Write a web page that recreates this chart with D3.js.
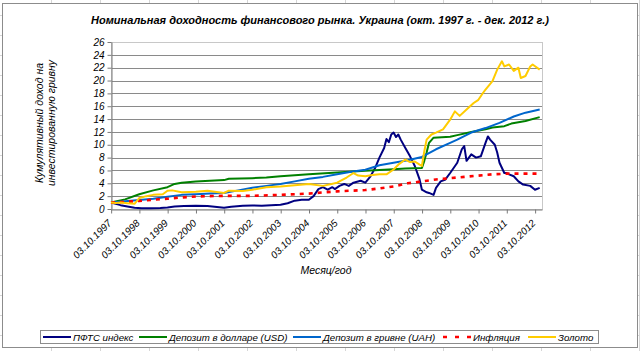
<!DOCTYPE html>
<html>
<head>
<meta charset="utf-8">
<script src="https://cdn.jsdelivr.net/npm/d3@7"></script>
<style>
  body { margin: 0; background: #fff; }
  svg { display: block; font-family: Arial, "Liberation Sans", sans-serif; }
</style>
</head>
<body>
<script>
// values, [month, cumulative value]
var pfts = [
  ["1997-10", 1.0], ["1997-12", 0.8], ["1998-02", 0.6], ["1998-05", 0.4], ["1998-08", 0.2],
  ["1998-11", 0.1], ["1999-03", 0.1], ["1999-07", 0.15], ["1999-10", 0.25], ["2000-01", 0.4],
  ["2000-05", 0.45], ["2000-10", 0.5], ["2001-03", 0.45], ["2001-07", 0.3], ["2001-10", 0.2],
  ["2002-01", 0.35], ["2002-06", 0.5], ["2002-10", 0.55], ["2003-02", 0.5], ["2003-06", 0.6],
  ["2003-10", 0.65], ["2004-01", 0.9], ["2004-04", 1.3], ["2004-07", 1.45], ["2004-10", 1.45],
  ["2004-12", 2.0], ["2005-02", 3.1], ["2005-04", 3.4], ["2005-06", 3.0], ["2005-08", 3.4],
  ["2005-09", 3.1], ["2005-11", 3.6], ["2006-01", 3.9], ["2006-03", 3.6], ["2006-05", 4.1],
  ["2006-08", 4.4], ["2006-10", 4.1], ["2006-12", 5.0], ["2007-02", 6.3], ["2007-04", 8.0],
  ["2007-06", 9.5], ["2007-07", 10.9], ["2007-08", 10.4], ["2007-09", 11.6], ["2007-10", 11.9],
  ["2007-11", 11.2], ["2007-12", 11.6], ["2008-01", 10.8], ["2008-03", 9.5], ["2008-05", 8.2],
  ["2008-07", 6.7], ["2008-09", 4.6], ["2008-10", 3.0], ["2008-12", 2.6], ["2009-01", 2.5],
  ["2009-03", 2.2], ["2009-04", 3.3], ["2009-06", 4.3], ["2009-08", 4.6], ["2009-10", 5.6],
  ["2010-01", 7.2], ["2010-03", 9.3], ["2010-04", 9.8], ["2010-05", 7.5], ["2010-07", 8.5],
  ["2010-09", 8.0], ["2010-11", 8.2], ["2011-01", 10.3], ["2011-02", 11.3], ["2011-03", 10.8],
  ["2011-05", 10.0], ["2011-06", 8.8], ["2011-07", 7.2], ["2011-09", 5.6], ["2011-10", 5.6],
  ["2011-11", 5.4], ["2012-01", 5.1], ["2012-03", 4.3], ["2012-05", 3.8], ["2012-08", 3.6],
  ["2012-10", 3.0], ["2012-12", 3.3]
];
var depUsd = [
  ["1997-10", 1.0], ["1998-04", 1.5], ["1998-10", 2.3], ["1999-04", 2.9], ["1999-10", 3.4],
  ["2000-01", 3.9], ["2000-04", 4.1], ["2000-10", 4.3], ["2001-04", 4.4], ["2001-10", 4.5],
  ["2001-12", 4.7], ["2002-10", 4.8], ["2003-04", 4.9], ["2003-10", 5.1], ["2004-10", 5.4],
  ["2005-10", 5.7], ["2006-10", 5.95], ["2007-10", 6.2], ["2008-03", 6.3], ["2008-10", 6.4],
  ["2008-11", 7.5], ["2008-12", 8.8], ["2009-01", 10.3], ["2009-03", 11.1], ["2009-10", 11.25],
  ["2010-01", 11.5], ["2010-07", 12.0], ["2011-01", 12.4], ["2011-04", 12.7], ["2011-09", 12.9],
  ["2011-12", 13.3], ["2012-06", 13.7], ["2012-12", 14.3]
];
var depUah = [
  ["1997-10", 1.0], ["1998-04", 1.2], ["1998-10", 1.4], ["1999-04", 1.6], ["1999-10", 1.9],
  ["2000-04", 2.2], ["2000-10", 2.3], ["2001-04", 2.4], ["2001-10", 2.5], ["2002-04", 2.9],
  ["2002-10", 3.3], ["2003-04", 3.6], ["2003-10", 3.9], ["2004-04", 4.3], ["2004-10", 4.7],
  ["2005-04", 5.0], ["2005-10", 5.4], ["2006-04", 5.8], ["2006-10", 6.1], ["2007-04", 6.8],
  ["2007-10", 7.2], ["2008-04", 7.6], ["2008-10", 8.1], ["2009-04", 9.3], ["2009-10", 10.3],
  ["2010-01", 10.8], ["2010-07", 11.9], ["2011-01", 12.6], ["2011-07", 13.4], ["2012-01", 14.4],
  ["2012-06", 15.0], ["2012-12", 15.5]
];
var inflation = [
  ["1997-10", 1.0], ["1998-04", 1.1], ["1998-10", 1.25], ["1999-04", 1.45], ["1999-10", 1.6],
  ["2000-04", 1.8], ["2000-10", 1.95], ["2001-10", 2.05], ["2002-10", 2.05], ["2003-10", 2.2],
  ["2004-10", 2.4], ["2005-10", 2.75], ["2006-10", 2.95], ["2007-04", 3.2], ["2007-10", 3.5],
  ["2008-04", 4.0], ["2008-10", 4.3], ["2009-04", 4.6], ["2009-10", 4.8], ["2010-04", 5.0],
  ["2010-10", 5.2], ["2011-04", 5.4], ["2011-10", 5.5], ["2012-04", 5.5], ["2012-12", 5.5]
];
var gold = [
  ["1997-10", 1.0], ["1997-12", 0.95], ["1998-02", 1.0], ["1998-05", 0.9], ["1998-08", 0.8],
  ["1998-10", 1.7], ["1999-01", 2.0], ["1999-04", 2.2], ["1999-08", 2.3], ["1999-10", 2.85],
  ["1999-12", 2.9], ["2000-04", 2.6], ["2000-10", 2.7], ["2001-03", 2.85], ["2001-10", 2.5],
  ["2001-12", 2.85], ["2002-06", 2.8], ["2002-10", 3.0], ["2003-04", 3.4], ["2003-10", 3.5],
  ["2004-04", 3.7], ["2004-10", 3.9], ["2005-04", 3.6], ["2005-10", 4.1], ["2006-02", 4.9],
  ["2006-05", 5.6], ["2006-07", 5.2], ["2006-10", 5.1], ["2007-01", 5.3], ["2007-04", 5.4],
  ["2007-07", 5.4], ["2007-10", 6.15], ["2007-12", 6.9], ["2008-03", 7.7], ["2008-05", 7.3],
  ["2008-07", 7.4], ["2008-09", 6.9], ["2008-10", 6.7], ["2008-11", 9.0], ["2008-12", 10.8],
  ["2009-02", 11.6], ["2009-04", 11.9], ["2009-07", 12.4], ["2009-10", 13.9], ["2009-12", 15.2],
  ["2010-02", 14.5], ["2010-05", 15.5], ["2010-08", 16.5], ["2010-10", 17.0], ["2010-12", 18.1],
  ["2011-01", 18.6], ["2011-04", 19.9], ["2011-06", 21.7], ["2011-08", 23.0], ["2011-09", 22.2],
  ["2011-11", 22.5], ["2012-01", 21.5], ["2012-03", 22.0], ["2012-04", 20.4], ["2012-06", 20.7],
  ["2012-08", 22.2], ["2012-09", 22.5], ["2012-12", 21.7]
];

var seriesNames = ["ПФТС индекс", "Депозит в долларе (USD)", "Депозит в гривне (UAH)", "Инфляция", "Золото"];
var seriesColors = ["#000080", "#008000", "#0066cc", "#ff0000", "#ffcc00"];
var tickYears = d3.range(1997, 2013);
var yTicks = d3.range(0, 27, 2);
var chartTitle = "Номинальная доходность финансового рынка. Украина (окт. 1997 г. - дек. 2012 г.)";
var yTitle = ["Кумулятивный доход на", "инвестированную гривну"];
var xTitle = "Месяц/год";

(function () {
    var width = 640, height = 351;
    var left = 111, right = 542, top = 42, bottom = 209;
    var parseMonth = d3.timeParse("%Y-%m");
    var fmt = d3.timeFormat("%d.%m.%Y");

    var svg = d3.select("body").append("svg")
        .attr("width", width)
        .attr("height", height);

    // spreadsheet cells behind the chart
    var sheet = svg.append("g").attr("stroke", "#d6d6d6");
    d3.range(51, width, 49).forEach(function (gx) {
        sheet.append("line").attr("x1", gx + 0.5).attr("x2", gx + 0.5).attr("y1", 0).attr("y2", height);
    });
    d3.range(15, height, 20).forEach(function (gy) {
        sheet.append("line").attr("x1", 0).attr("x2", width).attr("y1", gy + 0.5).attr("y2", gy + 0.5);
    });
    svg.append("rect")
        .attr("x", 2.5).attr("y", 3.5)
        .attr("width", 635).attr("height", 344)
        .attr("fill", "#fff")
        .attr("stroke", "#8c8c8c");

    var x = d3.scaleTime()
        .domain([new Date(1997, 9, 1), new Date(2012, 11, 31)])
        .range([left, right]);
    var y = d3.scaleLinear()
        .domain([0, 26])
        .range([bottom, top]);

    // gridlines
    svg.append("g")
        .selectAll("line")
        .data(yTicks.filter(function (v) { return v > 0 && v < 26; }))
        .enter()
        .append("line")
        .attr("x1", left).attr("x2", right)
        .attr("y1", function (d) { return Math.round(y(d)) + 0.5; })
        .attr("y2", function (d) { return Math.round(y(d)) + 0.5; })
        .attr("stroke", "#8a8a8a");

    // plot border
    svg.append("rect")
        .attr("x", left + 0.5).attr("y", top + 0.5)
        .attr("width", right - left).attr("height", bottom - top)
        .attr("fill", "none")
        .attr("stroke", "#c8c8c8");

    var yAxis = svg.append("g")
        .attr("transform", "translate(" + (left + 0.5) + ",0)")
        .call(d3.axisLeft(y).tickValues(yTicks).tickSize(4).tickSizeOuter(0).tickPadding(3));
    yAxis.selectAll("text")
        .style("font-size", "10px")
        .style("font-style", "italic")
        .style("fill", "#000");

    var xAxis = svg.append("g")
        .attr("transform", "translate(0," + (Math.round(bottom) + 0.5) + ")")
        .call(d3.axisBottom(x)
            .tickValues(tickYears.map(function (yr) { return new Date(yr, 9, 3); }))
            .tickSize(4).tickSizeOuter(0)
            .tickFormat(fmt));
    xAxis.selectAll("text")
        .style("font-size", "10px")
        .style("font-style", "italic")
        .style("fill", "#000")
        .style("text-anchor", "end")
        .attr("dy", "0.35em")
        .attr("transform", "translate(1,9) rotate(-45)")
        .attr("y", 0).attr("x", -4);

    svg.selectAll(".domain, .tick line").attr("stroke", "#7a7a7a");

    var line = d3.line()
        .x(function (d) { return x(parseMonth(d[0])); })
        .y(function (d) { return y(d[1]); });

    var allSeries = [pfts, depUsd, depUah, inflation, gold];
    allSeries.forEach(function (s, i) {
        svg.append("path")
            .datum(s)
            .attr("fill", "none")
            .attr("stroke", seriesColors[i])
            .attr("stroke-width", i == 3 ? 2.6 : 2)
            .attr("stroke-dasharray", i == 3 ? "4,5" : null)
            .attr("stroke-linejoin", "round")
            .attr("d", line);
    });

    // titles
    svg.append("text")
        .attr("x", 320).attr("y", 24)
        .attr("text-anchor", "middle")
        .style("font-size", "11px")
        .style("font-weight", "bold")
        .style("font-style", "italic")
        .text(chartTitle);

    svg.append("g")
        .attr("transform", "translate(0,123) rotate(-90)")
        .selectAll("text")
        .data(yTitle)
        .enter()
        .append("text")
        .attr("x", 0)
        .attr("y", function (d, i) { return 43 + i * 12; })
        .attr("text-anchor", "middle")
        .style("font-size", "10.5px")
        .style("font-style", "italic")
        .text(function (d) { return d; });

    svg.append("text")
        .attr("x", 326).attr("y", 274)
        .attr("text-anchor", "middle")
        .style("font-size", "10.5px")
        .style("font-style", "italic")
        .text(xTitle);

    // legend
    svg.append("rect")
        .attr("x", 40.5).attr("y", 330.5)
        .attr("width", 558).attr("height", 13)
        .attr("fill", "#fff")
        .attr("stroke", "#8c8c8c");
    var sampleX = [43, 139, 293, 443, 528];
    var leg = svg.append("g");
    seriesNames.forEach(function (name, i) {
        leg.append("line")
            .attr("x1", sampleX[i]).attr("x2", sampleX[i] + 28)
            .attr("y1", 337).attr("y2", 337)
            .attr("stroke", seriesColors[i])
            .attr("stroke-width", i == 3 ? 2.6 : 2)
            .attr("stroke-dasharray", i == 3 ? "4,8" : null);
        leg.append("text")
            .attr("x", sampleX[i] + 30).attr("y", 340.5)
            .style("font-size", "9.7px")
            .style("font-style", "italic")
            .text(name);
    });
})();
</script>
</body>
</html>
